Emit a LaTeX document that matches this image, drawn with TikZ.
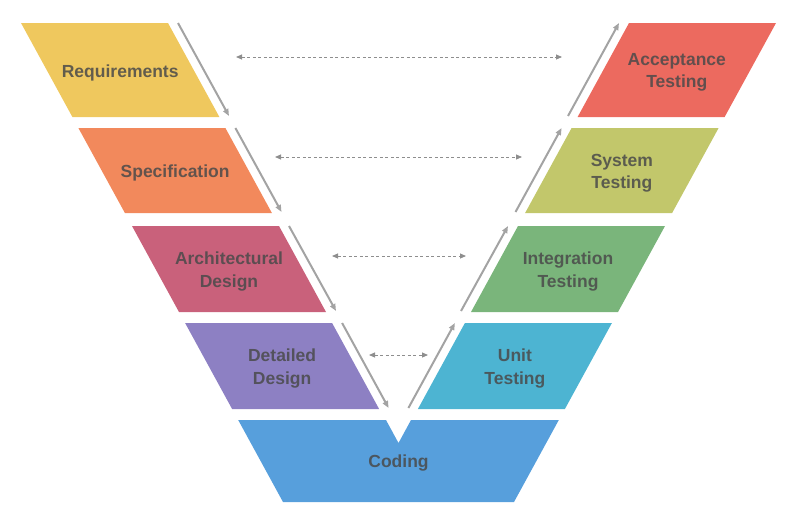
\documentclass[tikz,border=0pt]{standalone}
\usepackage{fontspec}
\setmainfont{Liberation Sans}
\usetikzlibrary{arrows.meta}
\definecolor{creq}{HTML}{EFC85E}
\definecolor{cspec}{HTML}{F2895C}
\definecolor{carch}{HTML}{C9617B}
\definecolor{cdet}{HTML}{8D80C3}
\definecolor{ccode}{HTML}{579FDC}
\definecolor{cunit}{HTML}{4DB4D2}
\definecolor{cint}{HTML}{7AB57B}
\definecolor{csys}{HTML}{C2C76B}
\definecolor{cacc}{HTML}{EC6A5F}
\definecolor{flowgray}{HTML}{A3A3A3}
\definecolor{linkgray}{HTML}{8E8E8E}
\definecolor{txtgray}{HTML}{4A4A4A}
\tikzset{
  lbl/.style={font=\bfseries\fontsize{17.5}{22.5}\selectfont, text=txtgray, text opacity=0.85, align=center, inner sep=0pt, yshift=-2.5pt},
  flow/.style={draw=flowgray, line width=2pt, -{Triangle[length=7pt,width=5.5pt]}},
  link/.style={draw=linkgray, line width=0.9pt, dash pattern=on 3pt off 2.5pt, {Triangle[length=6pt,width=5pt]}-{Triangle[length=6pt,width=5pt]}},
}
\begin{document}
\begin{tikzpicture}[x=1pt,y=-1pt]
\useasboundingbox (0,0) rectangle (791,522);
% left column
\fill[creq]  (21,23) -- (168,23) -- (219.4,117) -- (72.4,117) -- cycle;
\fill[cspec] (78.4,128) -- (225.4,128) -- (271.9,213) -- (124.9,213) -- cycle;
\fill[carch] (132,226) -- (279,226) -- (326,312) -- (179,312) -- cycle;
\fill[cdet]  (185.1,323) -- (332.1,323) -- (379.1,409) -- (232.1,409) -- cycle;
% right column
\fill[cacc]  (776,23) -- (629,23) -- (577.6,117) -- (724.6,117) -- cycle;
\fill[csys]  (718.6,128) -- (571.6,128) -- (525.1,213) -- (672.1,213) -- cycle;
\fill[cint]  (665,226) -- (518,226) -- (471,312) -- (618,312) -- cycle;
\fill[cunit] (611.9,323) -- (464.9,323) -- (417.9,409) -- (564.9,409) -- cycle;
% coding
\fill[ccode] (238.2,420) -- (386,420) -- (398.5,443) -- (411,420) -- (558.8,420) -- (514,502) -- (283,502) -- cycle;
% labels
\node[lbl] (req)  at (120.2,70)  {Requirements};
\node[lbl] (spec) at (175.1,170.5) {Specification};
\node[lbl] (arch) at (229,269) {Architectural\\Design};
\node[lbl] (det)  at (282.1,366) {Detailed\\Design};
\node[lbl] (acc)  at (676.8,70)  {Acceptance\\Testing};
\node[lbl] (sys)  at (621.9,170.5) {System\\Testing};
\node[lbl] (int)  at (568,269) {Integration\\Testing};
\node[lbl] (unit) at (514.9,366) {Unit\\Testing};
\node[lbl] (code) at (398.5,461) {Coding};
% flow arrow endpoints
\coordinate (a1s) at (178,23);    \coordinate (a1e) at (229,116);
\coordinate (a2s) at (235.4,128); \coordinate (a2e) at (281.5,212);
\coordinate (a3s) at (289,226);   \coordinate (a3e) at (336,311);
\coordinate (a4s) at (342.1,323); \coordinate (a4e) at (388.6,408);
\coordinate (b4s) at (408.4,408); \coordinate (b4e) at (454.9,323);
\coordinate (b3s) at (461,311);   \coordinate (b3e) at (508,226);
\coordinate (b2s) at (515.5,212); \coordinate (b2e) at (561.6,128);
\coordinate (b1s) at (568,116);   \coordinate (b1e) at (619,23);
\draw[flow] (a1s) -- (a1e);
\draw[flow] (a2s) -- (a2e);
\draw[flow] (a3s) -- (a3e);
\draw[flow] (a4s) -- (a4e);
\draw[flow] (b4s) -- (b4e);
\draw[flow] (b3s) -- (b3e);
\draw[flow] (b2s) -- (b2e);
\draw[flow] (b1s) -- (b1e);
% dashed links
\coordinate (l1a) at (236,57);  \coordinate (l1b) at (562,57);
\coordinate (l2a) at (275,157); \coordinate (l2b) at (522,157);
\coordinate (l3a) at (332,256); \coordinate (l3b) at (466,256);
\coordinate (l4a) at (369,355); \coordinate (l4b) at (428,355);
\draw[link] (l1a) -- (l1b);
\draw[link] (l2a) -- (l2b);
\draw[link] (l3a) -- (l3b);
\draw[link] (l4a) -- (l4b);
\end{tikzpicture}
\end{document}
